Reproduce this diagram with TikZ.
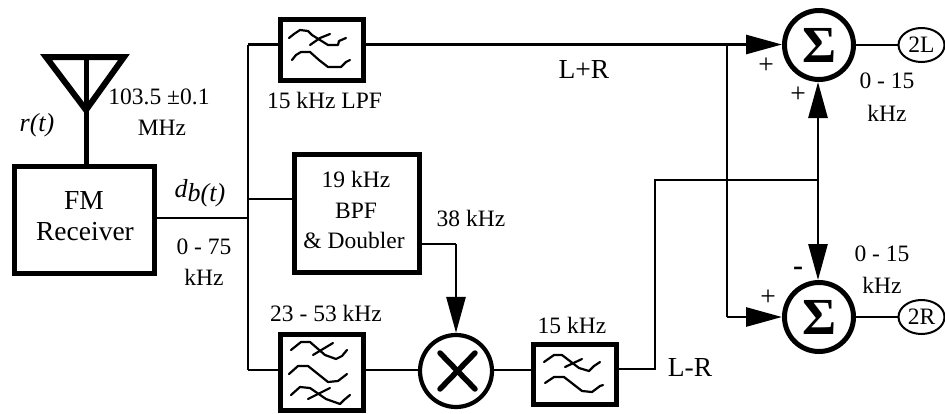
\documentclass[tikz,border=0pt]{standalone}
\usepackage{fontspec}
\setmainfont{Liberation Serif}
\usetikzlibrary{arrows.meta,shapes.geometric}
\tikzset{
  x=1pt,y=-1pt,
  lbl/.style={inner sep=0pt,font=\fontsize{23.5}{23.5}\selectfont,align=center},
  big/.style={inner sep=0pt,font=\fontsize{27.5}{27.5}\selectfont,align=center},
  wire/.style={line width=2.8pt},
  thickbox/.style={draw,line width=5pt,minimum width=83pt,minimum height=61pt,inner sep=0pt},
  sumnode/.style={circle,draw,line width=5pt,minimum size=69pt,inner sep=0pt,font=\fontsize{52}{52}\selectfont\bfseries},
  outport/.style={ellipse,draw,line width=2pt,minimum width=46pt,minimum height=34pt,inner sep=0pt,font=\fontsize{23.5}{23.5}\selectfont},
  arr/.style={wire,-{Triangle[length=36pt,width=19pt]}},
  curve/.style={line width=2.2pt,line join=round,line cap=round},
}
\begin{document}
\begin{tikzpicture}
\useasboundingbox (0,0) rectangle (945,413);
% blocks
\node[thickbox,minimum width=140.5pt,minimum height=107pt] (fm) at (84.7,219.5) {};
\node[big] (fmt) at (84,200) {FM};
\node[big] (fmr) at (85,232) {Receiver};
\node[thickbox] (lpf) at (322,50) {};
\node[thickbox,minimum width=125pt,minimum height=118pt] (bpf) at (357,213.5) {};
\node[thickbox,minimum height=76pt] (bp) at (322,372) {};
\node[thickbox,minimum height=60pt] (lr) at (575,374) {};
\node[sumnode] (s1) at (819,45) {Σ};
\node[sumnode] (s2) at (819,317) {Σ};
\node[circle,draw,line width=4.2pt,minimum size=72pt,inner sep=0pt] (mix) at (456,371) {};
\node[outport] (o1) at (921.5,45) {2L};
\node[outport] (o2) at (921.5,317) {2R};
% mixer cross
\draw[line width=5.5pt,line cap=round] (440,353) -- (475,389);
\draw[line width=5.5pt,line cap=round] (475,353) -- (440,389);
% antenna
\coordinate (ant) at (86,165);
\coordinate (anttop) at (86,57);
\coordinate (apex) at (86,110);
\draw[line width=6pt,miter limit=10] (46,57) -- (124,57) -- (apex) -- cycle;
\draw[line width=5pt] (anttop) -- (ant);
% junctions
\coordinate (j0) at (248,218);
\coordinate (jt) at (248,44.5);
\coordinate (jm) at (248,199);
\coordinate (jb) at (248,370);
\coordinate (jl) at (727,44.5);
\coordinate (jlb) at (727,317);
\coordinate (ja) at (655,180);
\coordinate (jc) at (655,369);
\coordinate (jd) at (818,180);
\coordinate (je) at (456,244);
% wires
\draw[wire] (fm.east|-j0) -- (j0);
\draw[wire] (jt) -- (jb);
\draw[wire] (jt) -- (lpf.west|-jt);
\draw[wire] (jm) -- (bpf.west|-jm);
\draw[wire] (jb) -- (bp.west|-jb);
\draw[wire] (bp.east|-jb) -- (mix.west|-jb);
\draw[wire] (mix.east|-jb) -- (lr.west|-jb);
\draw[wire,line join=miter] (lr.east|-jc) -- (jc) -- (ja) -- (jd);
\draw[arr] (lpf.east|-jl) -- (s1.west|-jl);
\draw[wire] (jl) -- (jlb);
\draw[arr] (jlb) -- (s2.west);
\draw[arr] (jd) -- (jd|-s1.south);
\draw[arr] (jd) -- (jd|-s2.north);
\draw[wire] (bpf.east|-je) -- (je);
\draw[arr] (je) -- (mix.north);
\draw[wire] (s1.east) -- (o1.west);
\draw[wire] (s2.east) -- (o2.west);
% filter glyphs
\begin{scope}[shift={(278,17)},curve]
  \draw (11,21) -- (16,17) -- (22,13) -- (30,14) -- (34,18) -- (42,23) -- (50,28) -- (60,28) -- (61,24) -- (68,21);
  \draw (32,28) -- (42,21) -- (52,17);
  \draw (14,43) -- (18,38) -- (23,35) -- (32,35) -- (41,43) -- (50,50) -- (63,50) -- (68,45) -- (72,43);
\end{scope}
\begin{scope}[shift={(532,342)},curve]
  \draw (12,20) -- (22,13) -- (30,13) -- (47,26) -- (57,29) -- (62,24) -- (68,20);
  \draw (33,25) -- (50,17);
  \draw (13,41) -- (22,35) -- (32,35) -- (50,49) -- (60,50) -- (68,44) -- (71,43);
\end{scope}
\begin{scope}[shift={(278,332)},curve]
  \draw (13,18) -- (23,10) -- (32,10) -- (47,23) -- (58,27) -- (64,24) -- (69,18);
  \draw (35,23) -- (55,11);
  \draw (11,42) -- (20,34) -- (30,34) -- (50,50) -- (60,49) -- (69,42);
  \draw (13,63) -- (22,55) -- (32,56) -- (48,67) -- (62,72) -- (66,68) -- (72,63);
  \draw (30,67) -- (52,56);
\end{scope}
% labels
\node[lbl] (t1) at (159,97) {103.5 ±0.1};
\node[lbl] (t2) at (162,128) {MHz};
\node[lbl,font=\fontsize{26}{26}\selectfont\itshape] (t3) at (37,125) {r(t)};
\node[lbl,font=\fontsize{26}{26}\selectfont\itshape] (t4) at (200,193) {d\raisebox{-4pt}{b(t)}};
\node[lbl] (t5) at (204,247) {0 - 75};
\node[lbl] (t6) at (204,277) {kHz};
\node[lbl] (t7) at (324.5,100) {15 kHz LPF};
\node[lbl] (t8) at (356,179) {19 kHz};
\node[lbl] (t9) at (356,211) {BPF};
\node[lbl] (t10) at (354,240) {\& Doubler};
\node[lbl] (t11) at (471,218) {38 kHz};
\node[lbl] (t12) at (326,313) {23 - 53 kHz};
\node[lbl] (t13) at (572,325) {15 kHz};
\node[big] (t14) at (690,367) {L-R};
\node[big] (t15) at (584,69) {L+R};
\node[big] (t16) at (766,66) {+};
\node[big] (t17) at (798,95) {+};
\node[lbl,font=\fontsize{30}{30}\selectfont\bfseries] (t18) at (798,271) {-};
\node[big] (t19) at (768,298) {+};
\node[lbl] (t20) at (887,81) {0 - 15};
\node[lbl] (t21) at (887,113) {kHz};
\node[lbl] (t22) at (882,254) {0 - 15};
\node[lbl] (t23) at (882,285) {kHz};
\end{tikzpicture}
\end{document}
